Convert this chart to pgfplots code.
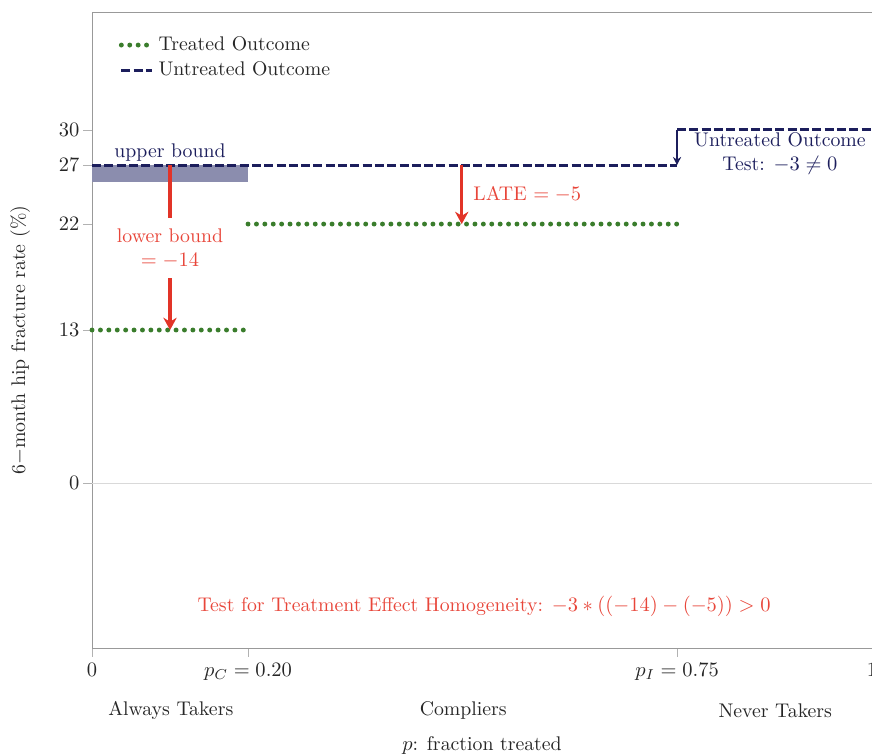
\documentclass[border=0pt]{standalone}
\usepackage{pgfplots}
\pgfplotsset{compat=1.18}
\usetikzlibrary{arrows.meta}
\definecolor{tgreen}{RGB}{58,125,44}
\definecolor{unavy}{RGB}{28,30,92}
\definecolor{ared}{RGB}{226,52,40}
\definecolor{tred}{RGB}{232,70,58}
\definecolor{shade}{RGB}{139,141,174}
\begin{document}
\fontsize{9.65pt}{11.6pt}\selectfont
\begin{tikzpicture}
\begin{axis}[
  scale only axis, width=380.5pt, height=310.2pt,
  xmin=0, xmax=1, ymin=-14, ymax=40,
  clip=false,
  axis line style={black!40},
  tick style={black!30},
  tick align=outside,
  xtick pos=bottom, ytick pos=left,
  xtick={0,0.2,0.75,1},
  xticklabels={$0$,$p_C = 0.20$,$p_I = 0.75$,$1$},
  ytick={13,22,27,30},
  extra y ticks={0},
  extra y tick style={grid=major, major grid style={black!15}},
  ticklabel style={black!85},
  yticklabel style={xshift=1.5pt},
  ylabel={6$-$month hip fracture rate (\%)},
  ylabel style={at={(axis description cs:0,0.484)}, anchor=center, yshift=35pt, black!85},
  xlabel={$p$: fraction treated},
  xlabel style={at={(axis description cs:0.5,0)}, anchor=center, yshift=-47.8pt, black!85},
  legend cell align=left,
  legend style={draw=none, fill=none, at={(axis description cs:0.026,0.975)}, anchor=north west, text=black!85},
  legend image code/.code={\draw[#1] (0pt,0pt) -- (15pt,0pt);},
  treated/.style={tgreen, line width=2.4pt, line cap=round, dash pattern=on 0pt off 4.1pt},
  untreated/.style={unavy, line width=1.6pt, dash pattern=on 4.4pt off 1.6pt},
]
% shaded band between upper bound values
\addplot[fill=shade, draw=none, forget plot] coordinates {(0,25.6) (0.2,25.6) (0.2,27) (0,27)} -- cycle;
% treated outcome
\addplot[treated] coordinates {(0,13) (0.2,13)};
\addlegendentry{Treated Outcome}
\addplot[treated, forget plot] coordinates {(0.2,22) (0.75,22)};
% untreated outcome
\addplot[untreated] coordinates {(0,27) (0.75,27)};
\addlegendentry{Untreated Outcome}
\addplot[untreated, forget plot] coordinates {(0.75,30) (1,30)};

% annotations
\draw[ared, line width=1.5pt] (axis cs:0.1,27) -- (axis cs:0.1,22.5);
\draw[ared, line width=1.5pt, -{Stealth[length=6pt,width=6.5pt]}] (axis cs:0.1,17.4) -- (axis cs:0.1,13);
\node[tred, align=center] at (axis cs:0.1,19.9) {lower bound\\$= -14$};
\node[unavy] at (axis cs:0.1,28.1) {upper bound};
\draw[ared, line width=1.5pt, -{Stealth[length=6pt,width=6.5pt]}] (axis cs:0.474,27) -- (axis cs:0.474,22);
\node[tred, anchor=west] at (axis cs:0.48,24.5) {LATE $= -5$};
\draw[unavy, line width=1pt, -{Stealth[length=4pt,width=4pt]}] (axis cs:0.75,30) -- (axis cs:0.75,27);
\node[unavy, align=center] at (axis cs:0.882,27.97) {Untreated Outcome\\Test: $-3\neq 0$};
\node[tred] at (axis cs:0.5026,-10.5) {Test for Treatment Effect Homogeneity: $-3*((-14)-(-5))>0$};
\node[black!85, yshift=-30.7pt] at (axis cs:0.101,-14) {Always Takers};
\node[black!85, yshift=-30.7pt] at (axis cs:0.476,-14) {Compliers};
\node[black!85, yshift=-30.7pt] at (axis cs:0.876,-14) {Never Takers};
\end{axis}
\pgfresetboundingbox
\useasboundingbox (-44.9pt,-52.7pt) rectangle (380.5pt,316.1pt);
\end{tikzpicture}
\end{document}
